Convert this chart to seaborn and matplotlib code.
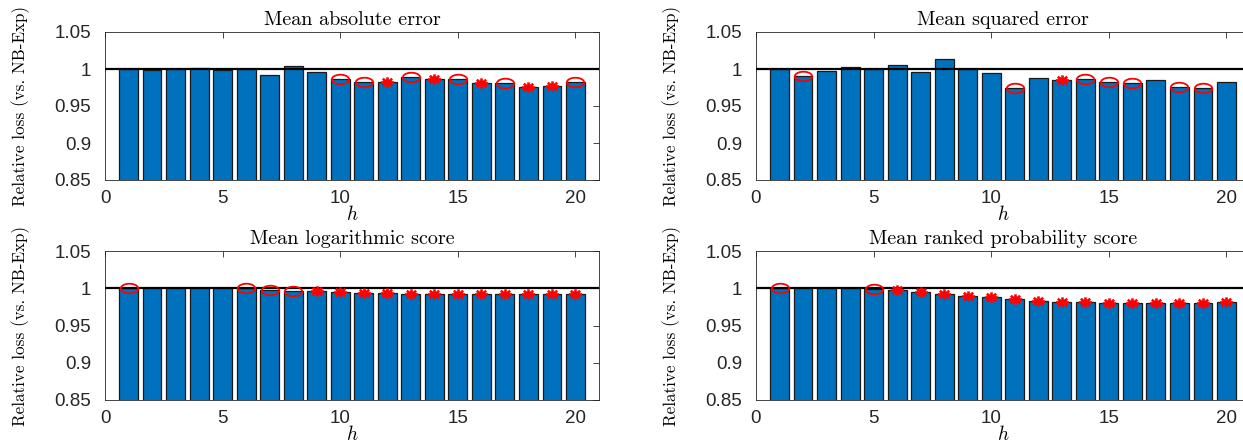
import numpy as np
import matplotlib
matplotlib.use("Agg")
import matplotlib.pyplot as plt
from matplotlib.path import Path
import seaborn as sns
import pandas as pd

# ---------------- data ----------------
h = list(range(1, 21))

mae = [1.000, 0.999, 0.9995, 1.001, 0.998, 0.9995, 0.9914, 1.0045, 0.9964, 0.9869,
       0.9828, 0.9828, 0.9896, 0.9864, 0.9869, 0.9815, 0.9815, 0.9760, 0.9774, 0.9824]
mae_circ = [10, 11, 13, 15, 17, 20]
mae_star = [12, 14, 16, 18, 19]

mse = [1.000, 0.991, 0.9973, 1.003, 0.9995, 1.0054, 0.996, 1.014, 0.9995, 0.9946,
       0.9743, 0.9874, 0.9856, 0.986, 0.982, 0.981, 0.9847, 0.9757, 0.9743, 0.982]
mse_circ = [2, 11, 14, 15, 16, 18, 19]
mse_star = [13]

mls = [1.000, 1.000, 1.000, 1.000, 1.000, 1.000, 0.9982, 0.9969, 0.996, 0.995,
       0.9942, 0.9933, 0.9928, 0.9924, 0.992, 0.992, 0.992, 0.992, 0.992, 0.992]
mls_circ = [1, 6, 7, 8]
mls_star = list(range(9, 21))

mrps = [1.000, 1.000, 1.0004, 1.000, 0.999, 0.9973, 0.995, 0.9924, 0.9897, 0.988,
        0.9852, 0.9825, 0.982, 0.9812, 0.9803, 0.9803, 0.9803, 0.9803, 0.9803, 0.9812]
mrps_circ = [1, 5]
mrps_star = list(range(6, 21))

titles = ["Mean absolute error", "Mean squared error",
          "Mean logarithmic score", "Mean ranked probability score"]
ytick_vals = [0.85, 0.9, 0.95, 1.0, 1.05]
ytick_labels = ["0.85", "0.9", "0.95", "1", "1.05"]
xtick_vals = [0, 5, 10, 15, 20]
ylabel = "Relative loss (vs. NB-Exp)"

panels = [(mae, mae_circ, mae_star), (mse, mse_circ, mse_star),
          (mls, mls_circ, mls_star), (mrps, mrps_circ, mrps_star)]

# ---------------- style ----------------
sns.set_theme(style="white")
plt.rcParams["font.family"] = ["Liberation Sans", "DejaVu Sans"]
plt.rcParams["mathtext.fontset"] = "cm"

bar_color = "#0072BD"
axis_color = "#262626"

# elliptical circle marker (reference is horizontally stretched)
t = np.linspace(0, 2 * np.pi, 65)
ell = Path(np.column_stack([np.cos(t), 0.55 * np.sin(t)]), closed=True)
a = 0.78
d = 0.72
star_verts = [(-1, 0), (1, 0), (0, -a), (0, a),
              (-d, -d * a), (d, d * a), (-d, d * a), (d, -d * a)]
star_codes = [Path.MOVETO, Path.LINETO] * 4
star = Path(star_verts, star_codes)

W, H = 1243, 442
fig = plt.figure(figsize=(W / 100, H / 100), dpi=100)

col_x = [105, 756]
row_y = [(32, 180), (251, 400)]
ax_w = 494

for i, (vals, circ, stars) in enumerate(panels):
    r, c = divmod(i, 2)
    top, bot = row_y[r]
    ax = fig.add_axes([col_x[c] / W, 1 - bot / H, ax_w / W, (bot - top) / H])
    df = pd.DataFrame({"h": h, "v": vals})
    sns.barplot(data=df, x="h", y="v", native_scale=True, color=bar_color,
                saturation=1, edgecolor="#1a1a1a", linewidth=0.9, width=0.8,
                errorbar=None, ax=ax)
    ax.axhline(1.0, color="black", lw=1.6, zorder=3)
    cv = [vals[k - 1] for k in circ]
    sv = [vals[k - 1] for k in stars]
    ax.plot(circ, cv, linestyle="none", marker=ell, markersize=12.5,
            markerfacecolor="none", markeredgecolor="red", markeredgewidth=1.3, zorder=4)
    ax.plot(stars, sv, linestyle="none", marker=star, markersize=9.5,
            markerfacecolor="none", markeredgecolor="red", markeredgewidth=1.9, zorder=4)
    ax.set_xlim(0, 21)
    ax.set_ylim(0.85, 1.05)
    ax.set_xticks(xtick_vals)
    ax.set_xticklabels([str(v) for v in xtick_vals])
    ax.set_yticks(ytick_vals)
    ax.set_yticklabels(ytick_labels)
    ax.tick_params(direction="in", length=4, width=0.6, color=axis_color,
                   labelcolor=axis_color, labelsize=13.5, top=True, right=True)
    ax.tick_params(axis="y", pad=10)
    ax.tick_params(axis="x", pad=7)
    for s in ax.spines.values():
        s.set_color(axis_color)
        s.set_linewidth(0.6)
        s.set_visible(True)
    ax.set_title(titles[i], fontfamily="cmr10", fontsize=14.5, pad=5, color="black")
    ax.set_xlabel("$h$", fontsize=14, labelpad=-1, color="black")
    ax.set_ylabel(ylabel, fontfamily="cmr10", fontsize=12.3, color="black")
    ax.yaxis.set_label_coords(-0.152, 0.5)
    ax.grid(False)

fig.savefig("out.png", dpi=100)
